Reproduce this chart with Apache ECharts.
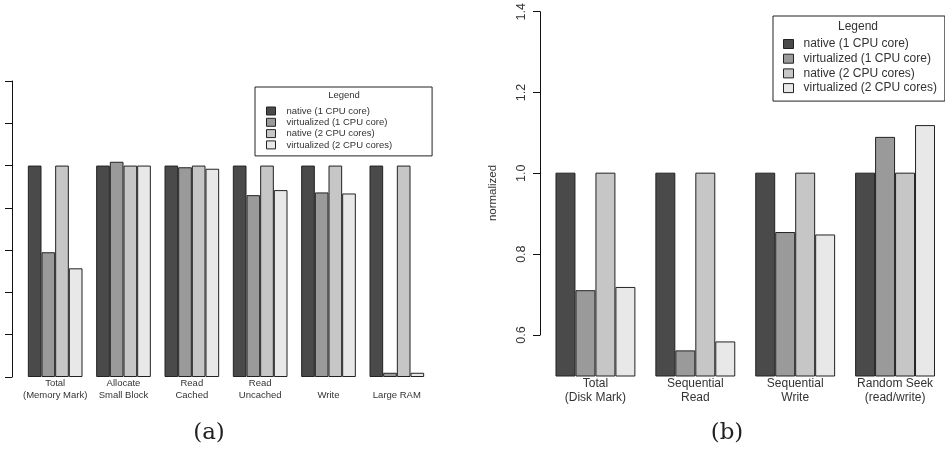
<!DOCTYPE html>
<html>
<head>
<meta charset="utf-8">
<script src="https://cdn.jsdelivr.net/npm/echarts@6/dist/echarts.min.js"></script>
<style>
  html, body { margin: 0; padding: 0; background: #fff; }
  #chart { width: 945px; height: 456px; }
</style>
</head>
<body>
<div id="chart"></div>
<script>
// series names / colours
const seriesNames = ['native (1 CPU core)', 'virtualized (1 CPU core)', 'native (2 CPU cores)', 'virtualized (2 CPU cores)']
const seriesColors = ['#4a4a4a', '#9a9a9a', '#c6c6c6', '#e8e8e8']

// (a) memory benchmark
const memCategories = ['Total\n(Memory Mark)', 'Allocate\nSmall Block', 'Read\nCached', 'Read\nUncached', '\nWrite', '\nLarge RAM']
const memNative1 = [1.0, 1.0, 1.0, 1.0, 1.0, 1.0]
const memVirt1 = [0.59, 1.018, 0.992, 0.86, 0.873, 0.02]
const memNative2 = [1.0, 1.0, 1.0, 1.0, 1.0, 1.0]
const memVirt2 = [0.514, 1.0, 0.985, 0.884, 0.868, 0.02]

// (b) disk benchmark
const diskCategories = ['Total\n(Disk Mark)', 'Sequential\nRead', 'Sequential\nWrite', 'Random Seek\n(read/write)']
const diskNative1 = [1.0, 1.0, 1.0, 1.0]
const diskVirt1 = [0.711, 0.563, 0.854, 1.088]
const diskNative2 = [1.0, 1.0, 1.0, 1.0]
const diskVirt2 = [0.719, 0.585, 0.848, 1.117]

const memData = [memNative1, memVirt1, memNative2, memVirt2]
const diskData = [diskNative1, diskVirt1, diskNative2, diskVirt2]

const font = '"Liberation Sans", Arial, sans-serif'

const makeSeries = (data, axisIdx) => data.map((vals, i) => ({
  name: seriesNames[i],
  type: 'bar',
  xAxisIndex: axisIdx,
  yAxisIndex: axisIdx,
  data: vals,
  barGap: '0%',
  barCategoryGap: '20%',
  clip: true,
  itemStyle: { color: seriesColors[i], borderColor: '#222', borderWidth: 1 },
  emphasis: { disabled: true }
}))

const legendBase = {
  orient: 'vertical',
  data: seriesNames,
  borderColor: '#222',
  borderWidth: 1,
  icon: 'rect',
  selectedMode: false,
  itemStyle: { borderColor: '#222', borderWidth: 1 }
}

const chart = echarts.init(document.getElementById('chart'))
chart.setOption({
  backgroundColor: '#fff',
  animation: false,
  grid: [
    { left: 21, right: 514, top: 81, bottom: 79 },
    { left: 545.5, right: 0, top: 10, bottom: 80 },
    { left: 545.5, right: 0, top: 10, bottom: 121 }
  ],
  xAxis: [
    {
      type: 'category', gridIndex: 0, data: memCategories,
      axisLine: { show: false }, axisTick: { show: false },
      axisLabel: { fontFamily: font, fontSize: 9.5, color: '#333', margin: 0, lineHeight: 12, interval: 0 }
    },
    {
      type: 'category', gridIndex: 1, data: diskCategories,
      axisLine: { show: false }, axisTick: { show: false },
      axisLabel: { fontFamily: font, fontSize: 12, color: '#333', margin: 1, lineHeight: 14, interval: 0 }
    },
    { type: 'category', gridIndex: 2, data: diskCategories, show: false }
  ],
  yAxis: [
    {
      type: 'value', gridIndex: 0, min: 0, max: 1.4, interval: 0.2, offset: 9,
      axisLine: { show: true, lineStyle: { color: '#111' } },
      axisTick: { show: true, length: 7, lineStyle: { color: '#111' } },
      axisLabel: { show: false },
      splitLine: { show: false }
    },
    {
      type: 'value', gridIndex: 1, min: 0.5, max: 1.4, offset: 5.5,
      name: 'normalized', nameLocation: 'middle', nameRotate: 90, nameGap: 41,
      nameTextStyle: { fontFamily: font, fontSize: 11.5, color: '#333' },
      axisLine: { show: false }, axisTick: { show: false }, axisLabel: { show: false },
      splitLine: { show: false }
    },
    {
      type: 'value', gridIndex: 2, min: 0.6, max: 1.4, interval: 0.2, offset: 5.5,
      axisLine: { show: true, lineStyle: { color: '#111' } },
      axisTick: { show: true, length: 7, lineStyle: { color: '#111' } },
      axisLabel: {
        fontFamily: font, fontSize: 12.5, color: '#333', rotate: 90, margin: 12,
        formatter: v => v.toFixed(1)
      },
      splitLine: { show: false }
    }
  ],
  legend: [
    Object.assign({}, legendBase, {
      left: 255, top: 87, padding: [19, 40, 6, 11],
      itemWidth: 9, itemHeight: 8, itemGap: 1.3,
      textStyle: { fontFamily: font, fontSize: 9.5, lineHeight: 10, color: '#333', padding: [0, 0, 0, 6] }
    }),
    Object.assign({}, legendBase, {
      left: 773, top: 16, padding: [22, 8, 7, 10],
      itemWidth: 10, itemHeight: 9, itemGap: 2.7,
      textStyle: { fontFamily: font, fontSize: 12, lineHeight: 12, color: '#333', padding: [0, 0, 0, 5] }
    })
  ],
  graphic: [
    { type: 'text', style: { text: 'Legend', x: 344, y: 95, textAlign: 'center', textVerticalAlign: 'middle', font: '9.5px ' + font, fill: '#333' } },
    { type: 'text', style: { text: 'Legend', x: 858, y: 27, textAlign: 'center', textVerticalAlign: 'middle', font: '12px ' + font, fill: '#333' } },
    { type: 'text', style: { text: '(a)', x: 209, y: 433, textAlign: 'center', textVerticalAlign: 'middle', font: '23px "DejaVu Serif", serif', fill: '#222' } },
    { type: 'text', style: { text: '(b)', x: 727, y: 433, textAlign: 'center', textVerticalAlign: 'middle', font: '23px "DejaVu Serif", serif', fill: '#222' } }
  ],
  series: [...makeSeries(memData, 0), ...makeSeries(diskData, 1)]
})
</script>
</body>
</html>
